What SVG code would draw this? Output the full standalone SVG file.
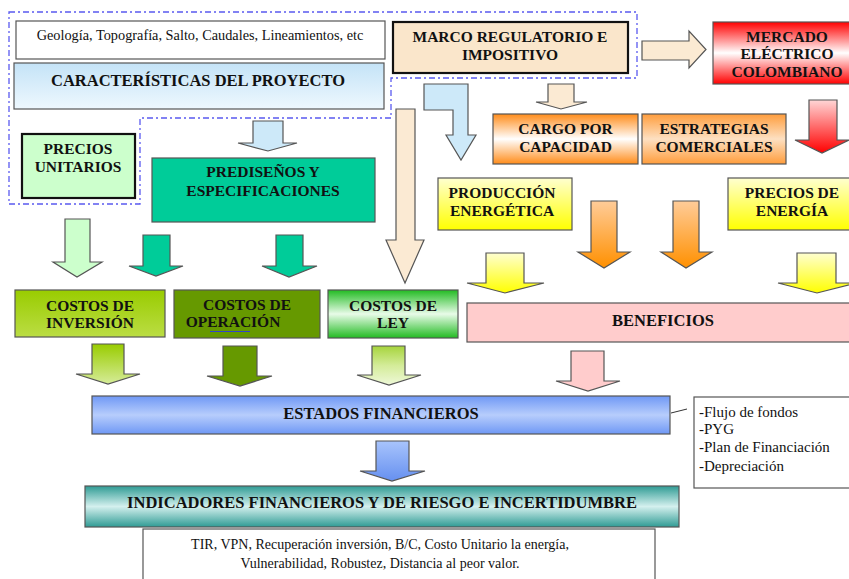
<svg xmlns="http://www.w3.org/2000/svg" width="849" height="579" viewBox="0 0 849 579">
<defs>
<linearGradient id="gCar" x1="0" y1="0" x2="0" y2="1"><stop offset="0" stop-color="#c4e3f7"/><stop offset="1" stop-color="#eef8fe"/></linearGradient>
<linearGradient id="gRed" x1="0" y1="0" x2="0" y2="1"><stop offset="0" stop-color="#ff0000"/><stop offset="0.5" stop-color="#ffffff"/><stop offset="1" stop-color="#ff0000"/></linearGradient>
<linearGradient id="gRedA" x1="0" y1="0" x2="0" y2="1"><stop offset="0" stop-color="#ffd6d6"/><stop offset="1" stop-color="#ff0000"/></linearGradient>
<linearGradient id="gOr" x1="0" y1="0" x2="0" y2="1"><stop offset="0" stop-color="#ff8c1a"/><stop offset="0.5" stop-color="#ffffff"/><stop offset="1" stop-color="#ff8c1a"/></linearGradient>
<linearGradient id="gOr2" x1="0" y1="0" x2="0" y2="1"><stop offset="0" stop-color="#ff9d3c"/><stop offset="0.5" stop-color="#fde0c2"/><stop offset="1" stop-color="#ff9d3c"/></linearGradient>
<linearGradient id="gOrA" x1="0" y1="0" x2="0" y2="1"><stop offset="0" stop-color="#ffcc99"/><stop offset="1" stop-color="#ff9000"/></linearGradient>
<linearGradient id="gYel" x1="0" y1="0" x2="0" y2="1"><stop offset="0" stop-color="#ffffd0"/><stop offset="1" stop-color="#ffff00"/></linearGradient>
<linearGradient id="gInv" x1="0" y1="0" x2="0" y2="1"><stop offset="0" stop-color="#99cc00"/><stop offset="1" stop-color="#bbdd44"/></linearGradient>
<linearGradient id="gInvA" x1="0" y1="0" x2="0" y2="1"><stop offset="0" stop-color="#99cc00"/><stop offset="1" stop-color="#d6ec99"/></linearGradient>
<linearGradient id="gLey" x1="0" y1="0" x2="0" y2="1"><stop offset="0" stop-color="#22bb22"/><stop offset="0.5" stop-color="#e8fbe8"/><stop offset="1" stop-color="#22bb22"/></linearGradient>
<linearGradient id="gLeyA" x1="0" y1="0" x2="0" y2="1"><stop offset="0" stop-color="#a6d43c"/><stop offset="0.5" stop-color="#d4ec99"/><stop offset="1" stop-color="#eef8d8"/></linearGradient>
<linearGradient id="gEst" x1="0" y1="0" x2="0" y2="1"><stop offset="0" stop-color="#6f98f5"/><stop offset="0.5" stop-color="#b7cdfc"/><stop offset="1" stop-color="#6f98f5"/></linearGradient>
<linearGradient id="gEstA" x1="0" y1="0" x2="0" y2="1"><stop offset="0" stop-color="#a8c4fc"/><stop offset="1" stop-color="#6690f0"/></linearGradient>
<linearGradient id="gInd" x1="0" y1="0" x2="0" y2="1"><stop offset="0" stop-color="#2f9b94"/><stop offset="0.5" stop-color="#d4f0ee"/><stop offset="1" stop-color="#2f9b94"/></linearGradient>
</defs>
<style>
.b{font-family:"Liberation Serif","Times New Roman",serif;font-weight:bold;fill:#111;text-anchor:middle}
.r{font-family:"Liberation Serif","Times New Roman",serif;fill:#111}
.s15{font-size:15.5px}
.s16{font-size:16.5px}
.box{stroke:#555;stroke-width:1.2}
.thick{stroke:#111;stroke-width:2.2}
.arr{stroke:#555;stroke-width:1.2}
</style>

<path d="M9 12 H637 V78 H391 V118 H140 V204 H9 Z" fill="none" stroke="#5a5af0" stroke-width="1.3" stroke-dasharray="6 3 2 3"/>

<g id="n-geologia">
<rect x="16" y="21" width="369" height="38" fill="#fff" class="box"/>
<text class="r" x="200" y="40" font-size="14.3" text-anchor="middle">Geología, Topografía, Salto, Caudales, Lineamientos, etc</text>
</g>
<g id="n-caracteristicas">
<rect x="14" y="63" width="370" height="46" fill="url(#gCar)" class="box"/>
<text class="b s16" x="198" y="86">CARACTERÍSTICAS DEL PROYECTO</text>
</g>
<g id="n-precios-unitarios">
<rect x="22" y="134" width="113" height="64" fill="#ccffcc" class="thick"/>
<text class="b s15" x="78" y="154">PRECIOS</text>
<text class="b s15" x="78" y="172">UNITARIOS</text>
</g>
<g id="n-predisenos">
<rect x="152" y="158" width="223" height="64" fill="#00cc99" class="box"/>
<text class="b s15" x="263" y="177">PREDISEÑOS Y</text>
<text class="b s15" x="263" y="196">ESPECIFICACIONES</text>
</g>
<g id="n-marco">
<rect x="393" y="22" width="235" height="51" fill="#fae6cb" class="thick"/>
<text class="b s15" x="510" y="42">MARCO REGULATORIO E</text>
<text class="b s15" x="510" y="60">IMPOSITIVO</text>
</g>
<g id="n-mercado">
<rect x="713" y="22" width="150" height="62" fill="url(#gRed)" class="box"/>
<text class="b s15" x="787" y="41.5">MERCADO</text>
<text class="b s15" x="787" y="59">ELÉCTRICO</text>
<text class="b s15" x="787" y="77">COLOMBIANO</text>
</g>
<g id="n-cargo">
<rect x="493" y="114" width="145" height="50" fill="url(#gOr)" class="box"/>
<text class="b s15" x="565.5" y="134">CARGO POR</text>
<text class="b s15" x="565.5" y="152">CAPACIDAD</text>
</g>
<g id="n-estrategias">
<rect x="642" y="114" width="144" height="50" fill="url(#gOr2)" class="box"/>
<text class="b s15" x="714" y="134">ESTRATEGIAS</text>
<text class="b s15" x="714" y="152">COMERCIALES</text>
</g>
<g id="n-produccion">
<rect x="438" y="178" width="134" height="52" fill="url(#gYel)" class="box"/>
<text class="b s15" x="502" y="198">PRODUCCIÓN</text>
<text class="b s15" x="502" y="216">ENERGÉTICA</text>
</g>
<g id="n-precios-energia">
<rect x="728" y="178" width="130" height="52" fill="url(#gYel)" class="box"/>
<text class="b s15" x="792" y="198">PRECIOS DE</text>
<text class="b s15" x="792" y="216">ENERGÍA</text>
</g>
<g id="n-costos-inversion">
<rect x="15" y="290" width="150" height="47" fill="url(#gInv)" class="box"/>
<text class="b s15" x="90" y="311">COSTOS DE</text>
<text class="b s15" x="90" y="328">INVERSIÓN</text>
</g>
<g id="n-costos-operacion">
<rect x="174" y="290" width="146" height="48" fill="#669900" class="box"/>
<text class="b s15" x="247" y="310">COSTOS DE</text>
<text class="b s15" x="233" y="327">OPERACIÓN</text>
<line x1="210" y1="331.5" x2="250" y2="331.5" stroke="#3344cc" stroke-width="1"/>
</g>
<g id="n-costos-ley">
<rect x="328" y="290" width="130" height="48" fill="url(#gLey)" class="box"/>
<text class="b s15" x="393" y="311">COSTOS DE</text>
<text class="b s15" x="393" y="328">LEY</text>
</g>
<g id="n-beneficios">
<rect x="467" y="303" width="395" height="39" fill="#ffcccc" class="box"/>
<text class="b s16" x="663" y="326">BENEFICIOS</text>
</g>
<g id="n-estados">
<rect x="92" y="396" width="578" height="38" fill="url(#gEst)" class="box"/>
<text class="b s16" x="381" y="419">ESTADOS FINANCIEROS</text>
</g>
<g id="n-estados-detalle">
<rect x="694" y="397" width="170" height="91" fill="#fff" class="box"/>
<text class="r" font-size="15" x="699" y="417">-Flujo de fondos</text>
<text class="r" font-size="15" x="699" y="434">-PYG</text>
<text class="r" font-size="15" x="699" y="452">-Plan de Financiación</text>
<text class="r" font-size="15" x="699" y="471">-Depreciación</text>
</g>
<g id="n-indicadores">
<rect x="85" y="486" width="594" height="41" fill="url(#gInd)" class="box"/>
<text class="b s16" x="382" y="508">INDICADORES FINANCIEROS Y DE RIESGO E INCERTIDUMBRE</text>
</g>
<g id="n-indicadores-detalle">
<rect x="143" y="529" width="512" height="60" fill="#fff" class="box"/>
<text class="r" font-size="14" x="380" y="549" text-anchor="middle">TIR, VPN, Recuperación inversión, B/C, Costo Unitario la energía,</text>
<text class="r" font-size="14" x="380" y="568" text-anchor="middle">Vulnerabilidad, Robustez, Distancia al peor valor.</text>
</g>

<g id="connectors">
<polygon class="arr" fill="#cde9f9" points="253,121 283,121 283,143 297,143 268,151 238,143 253,143"/>
<polygon class="arr" fill="#fbead3" points="548,84 574,84 574,102 587,102 561,109 536,102 548,102"/>
<polygon class="arr" fill="url(#gRedA)" points="809,100 837,100 837,140 849,140 822,153 795,140 809,140"/>
<polygon class="arr" fill="#fbead3" points="396,109 415,109 415,240 424,240 405,283 386,240 396,240"/>
<polygon class="arr" fill="#cde9f9" points="424,84 468,84 468,135 476,135 461,160 446,135 453,135 453,110 424,110"/>
<polygon class="arr" fill="#fbead3" points="642,41 689,41 689,31 706,49.5 689,68 689,60 642,60"/>
<polygon class="arr" fill="url(#gOrA)" points="591,201 617,201 617,252 630,252 604,268 578,252 591,252"/>
<polygon class="arr" fill="url(#gOrA)" points="673,201 699,201 699,252 712,252 686,268 661,252 673,252"/>
<polygon class="arr" fill="url(#gYel)" points="486,253 524,253 524,283 544,283 505,293 467,283 486,283"/>
<polygon class="arr" fill="url(#gYel)" points="797,253 836,253 836,283 856,283 817,293 778,283 797,283"/>
<polygon class="arr" fill="#ffcccc" points="571,351 604,351 604,381 620,381 588,391 556,381 571,381"/>
<polygon class="arr" fill="#ccffcc" points="65,219 90,219 90,262 102,262 77,277 53,262 65,262"/>
<polygon class="arr" fill="#00cc99" points="143,235 170,235 170,266 183,266 156,276 129,266 143,266"/>
<polygon class="arr" fill="#00cc99" points="276,235 303,235 303,266 317,266 289,277 262,266 276,266"/>
<polygon class="arr" fill="url(#gInvA)" points="92,344 124,344 124,374 140,374 108,384 76,374 92,374"/>
<polygon class="arr" fill="#669900" points="223,346 257,346 257,376 272,376 240,386 207,376 223,376"/>
<polygon class="arr" fill="url(#gLeyA)" points="372,346 405,346 405,375 421,375 389,385 357,375 372,375"/>
<polygon class="arr" fill="url(#gEstA)" points="376,441 409,441 409,471 425,471 392,481 360,471 376,471"/>
<line x1="671" y1="413" x2="687" y2="409" stroke="#333" stroke-width="1"/>
</g>
</svg>
